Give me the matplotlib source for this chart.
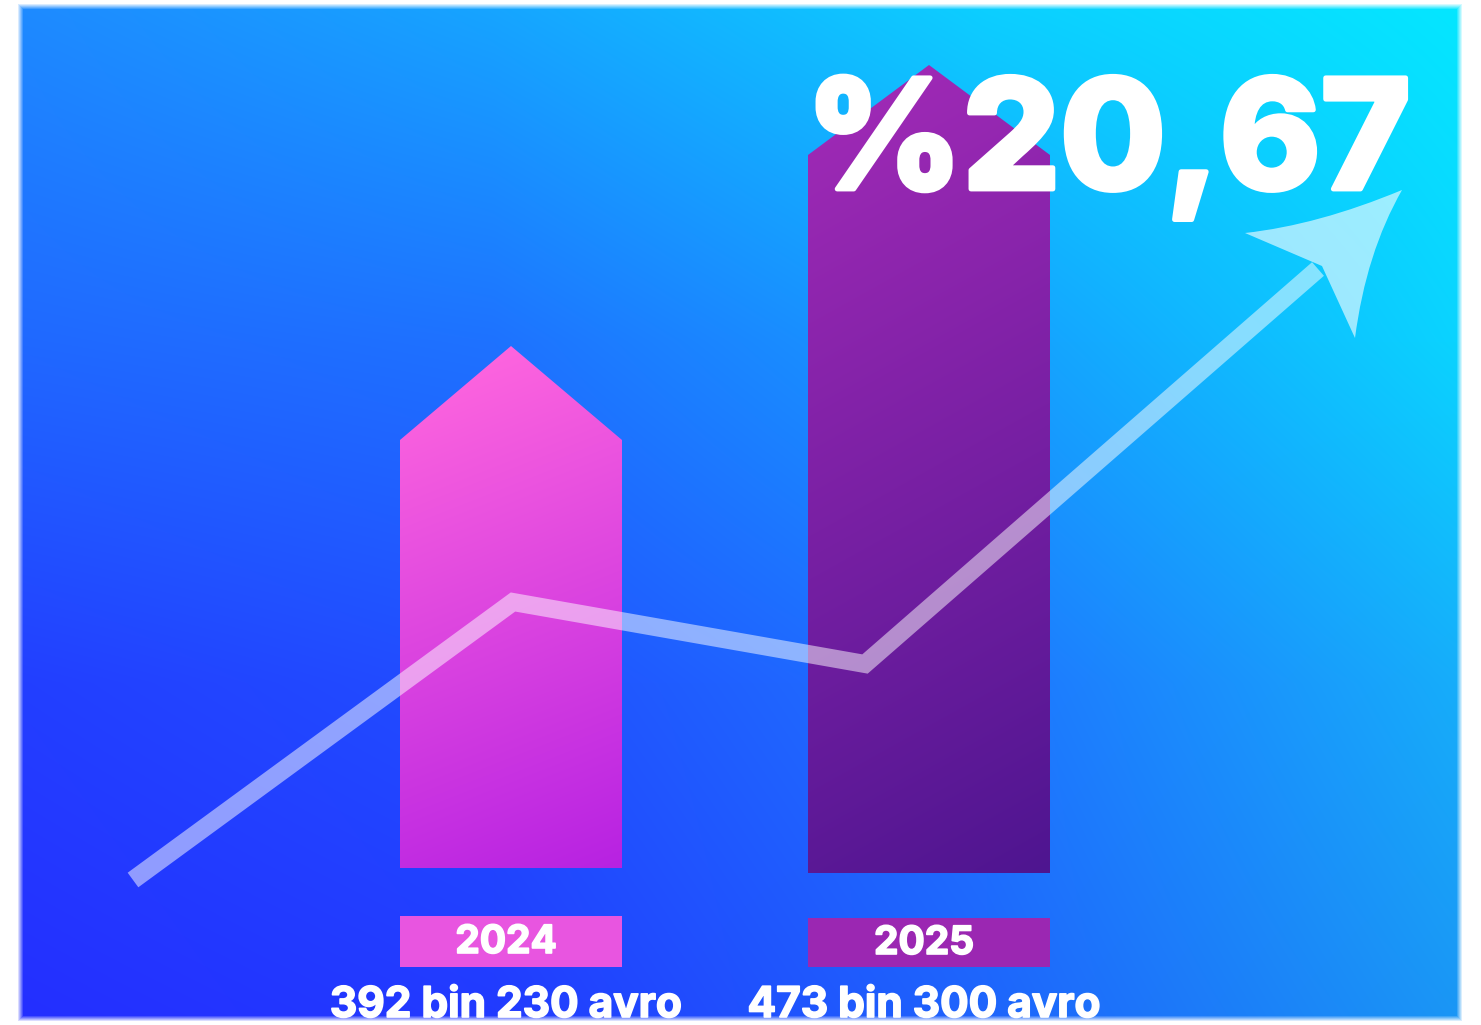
import numpy as np
import matplotlib
matplotlib.use("Agg")
import matplotlib.pyplot as plt
import matplotlib.patheffects as pe
from matplotlib.patches import Polygon, Rectangle, PathPatch
from matplotlib.path import Path
from matplotlib.colors import to_rgb

W, H = 1481, 1025

# texts
years = ["2024", "2025"]
amounts = ["392 bin 230 avro", "473 bin 300 avro"]
growth = "%20,67"

bar_centers = [511, 929]
bar_widths = [222, 242]
bar_bottoms = [157, 152]
bar_shoulders = [585, 870]
bar_peaks = [679, 960]
bar_top_colors = ["#ff66de", "#a02ab6"]
bar_bottom_colors = ["#b722e2", "#4e1590"]

# year boxes under the bars
box_bottoms = [58, 58]
box_tops = [109, 107]
box_colors = ["#e855e0", "#9b27b2"]

# trend line and its arrow head
trend_x = [133, 513, 865, 1318]
trend_y = [145, 423, 361, 756]
head_x = [1402, 1318, 1245, 1322, 1355, 1366, 1402]
head_y = [835, 800, 792, 759, 687, 772, 835]

# background colour grid (rows from top to bottom)
bg_grid = [
    [(30, 138, 255), (22, 166, 255), (12, 208, 255), (4, 232, 255)],
    [(32, 104, 255), (30, 114, 255), (22, 158, 255), (10, 214, 255)],
    [(35, 62, 255), (33, 78, 255), (30, 118, 255), (22, 176, 250)],
    [(36, 46, 255), (34, 58, 255), (30, 100, 252), (26, 152, 245)],
]

FONT = ["Inter", "DejaVu Sans"]


def background():
    g = np.array(bg_grid, dtype=float) / 255.0
    ny, nx = g.shape[:2]
    xs = np.linspace(0, 1, W)
    ys = np.linspace(0, 1, H)
    rows = np.empty((ny, W, 3))
    for i in range(ny):
        for c in range(3):
            rows[i, :, c] = np.interp(xs, np.linspace(0, 1, nx), g[i, :, c])
    img = np.empty((H, W, 4))
    for c in range(3):
        for j in range(W):
            img[:, j, c] = np.interp(ys, np.linspace(0, 1, ny), rows[:, j, c])
    # soft white border around the panel
    x = np.arange(W)[None, :]
    y = np.arange(H)[:, None]
    d = np.minimum.reduce([
        np.broadcast_to(x - 17, (H, W)),
        np.broadcast_to(1462 - x, (H, W)),
        np.broadcast_to(y - 3, (H, W)),
        np.broadcast_to(1021 - y, (H, W)),
    ])
    img[..., 3] = np.clip(d / 6.0, 0, 1)
    return img


def gradient_bar(ax, cx, w, bottom, shoulder, peak, c_top, c_bot):
    x0, x1 = cx - w / 2, cx + w / 2
    verts = [(x0, bottom), (x0, shoulder), (cx, peak), (x1, shoulder), (x1, bottom)]
    poly = Polygon(verts, closed=True, facecolor="none", edgecolor="none")
    ax.add_patch(poly)
    n = 200
    u = np.linspace(0, 1, n)[None, :]
    v = np.linspace(0, 1, n)[:, None]
    t = np.clip(0.9 * v + 0.15 * u - 0.05, 0, 1)
    a = np.array(to_rgb(c_top))
    b = np.array(to_rgb(c_bot))
    arr = a[None, None, :] * (1 - t[..., None]) + b[None, None, :] * t[..., None]
    im = ax.imshow(arr, extent=(x0, x1, bottom, peak), origin="upper",
                   aspect="auto", zorder=2, interpolation="bilinear")
    im.set_clip_path(poly)


def main():
    fig = plt.figure(figsize=(W / 100, H / 100), dpi=100)
    fig.patch.set_facecolor("white")
    ax = fig.add_axes([0, 0, 1, 1])
    ax.set_xlim(0, W)
    ax.set_ylim(0, H)
    ax.axis("off")

    ax.imshow(background(), extent=(0, W, 0, H), origin="upper",
              aspect="auto", zorder=0)

    thin = [pe.withStroke(linewidth=1.2, foreground="white")]
    for i in range(len(years)):
        gradient_bar(ax, bar_centers[i], bar_widths[i], bar_bottoms[i],
                     bar_shoulders[i], bar_peaks[i],
                     bar_top_colors[i], bar_bottom_colors[i])
        x0 = bar_centers[i] - bar_widths[i] / 2
        ax.add_patch(Rectangle((x0, box_bottoms[i]), bar_widths[i],
                               box_tops[i] - box_bottoms[i],
                               facecolor=box_colors[i], edgecolor="none", zorder=2))
        ax.text(bar_centers[i] - 5, (box_bottoms[i] + box_tops[i]) / 2 - 1, years[i],
                color="white", fontsize=28, fontweight="bold", family=FONT,
                ha="center", va="center", zorder=5, path_effects=thin)
        ax.text(bar_centers[i] - 5, 8, amounts[i], color="white", fontsize=30.5,
                fontweight="bold", family=FONT, ha="center", va="baseline",
                zorder=5, path_effects=thin)

    # trend line
    ax.plot(trend_x, trend_y, color="white", alpha=0.5, lw=13,
            solid_joinstyle="miter", solid_capstyle="butt", zorder=3)
    codes = [Path.MOVETO, Path.CURVE3, Path.CURVE3, Path.LINETO,
             Path.LINETO, Path.CURVE3, Path.CURVE3]
    head = Path(list(zip(head_x, head_y)), codes)
    ax.add_patch(PathPatch(head, facecolor="white", edgecolor="none",
                           alpha=0.6, zorder=3))

    ax.text(1108, 836, growth, color="white", fontsize=110, fontweight="heavy",
            family=FONT, ha="center", va="baseline", zorder=6,
            path_effects=[pe.withStroke(linewidth=3.5, foreground="white")])

    fig.savefig("out.png", dpi=100)
    plt.close(fig)


if __name__ == "__main__":
    main()
